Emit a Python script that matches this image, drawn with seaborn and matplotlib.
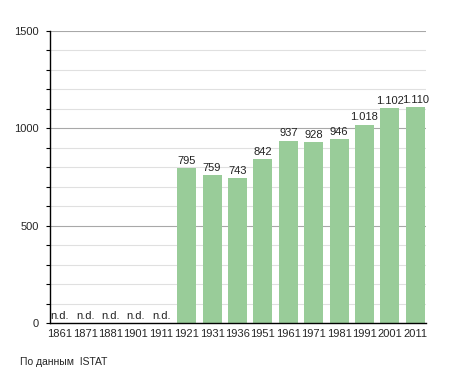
import matplotlib
matplotlib.use('Agg')
import matplotlib.pyplot as plt
from matplotlib.ticker import MultipleLocator
import pandas as pd
import seaborn as sns

# --- data ---
years = ['1861', '1871', '1881', '1901', '1911', '1921', '1931', '1936',
         '1951', '1961', '1971', '1981', '1991', '2001', '2011']
population = [0, 0, 0, 0, 0, 795, 759, 743, 842, 937, 928, 946, 1018, 1102, 1110]
bar_labels = ['n.d.', 'n.d.', 'n.d.', 'n.d.', 'n.d.', '795', '759', '743', '842',
              '937', '928', '946', '1.018', '1.102', '1.110']

sns.set_style('white')
plt.rcParams['font.family'] = ['Liberation Sans', 'DejaVu Sans']

df = pd.DataFrame({'anno': years, 'abitanti': population})

fig = plt.figure(figsize=(4.55, 3.73), dpi=100)
ax = fig.add_axes([50 / 455, 50 / 373, 376 / 455, 292 / 373])
ax.set_axisbelow(True)

sns.barplot(data=df, x='anno', y='abitanti', color='#99cc99', saturation=1,
            width=0.75, linewidth=0, ax=ax)

ax.set_xlim(-0.38, 14.42)
ax.set_ylim(0, 1500)
ax.yaxis.set_major_locator(MultipleLocator(500))
ax.yaxis.set_minor_locator(MultipleLocator(100))
ax.grid(which='minor', axis='y', color='#e0e0e0', lw=0.8)
ax.grid(which='major', axis='y', color='#a8a8a8', lw=0.8)
ax.tick_params(axis='y', which='both', left=True, length=3, width=0.8,
               color='black', labelsize=8, pad=5)
ax.tick_params(axis='x', bottom=False, labelsize=8, pad=1)

for s in ['top', 'right']:
    ax.spines[s].set_visible(False)
for s in ['left', 'bottom']:
    ax.spines[s].set_color('black')
    ax.spines[s].set_linewidth(1)

for i, (val, lab) in enumerate(zip(population, bar_labels)):
    ax.text(i, val + 12, lab, ha='center', va='bottom', fontsize=8, color='#222222')

ax.set_xlabel('')
ax.set_ylabel('')

fig.text(20 / 455, 1 - 362 / 373, 'По данным  ISTAT', fontsize=7.5, va='center')

fig.savefig('out.png', dpi=100)
